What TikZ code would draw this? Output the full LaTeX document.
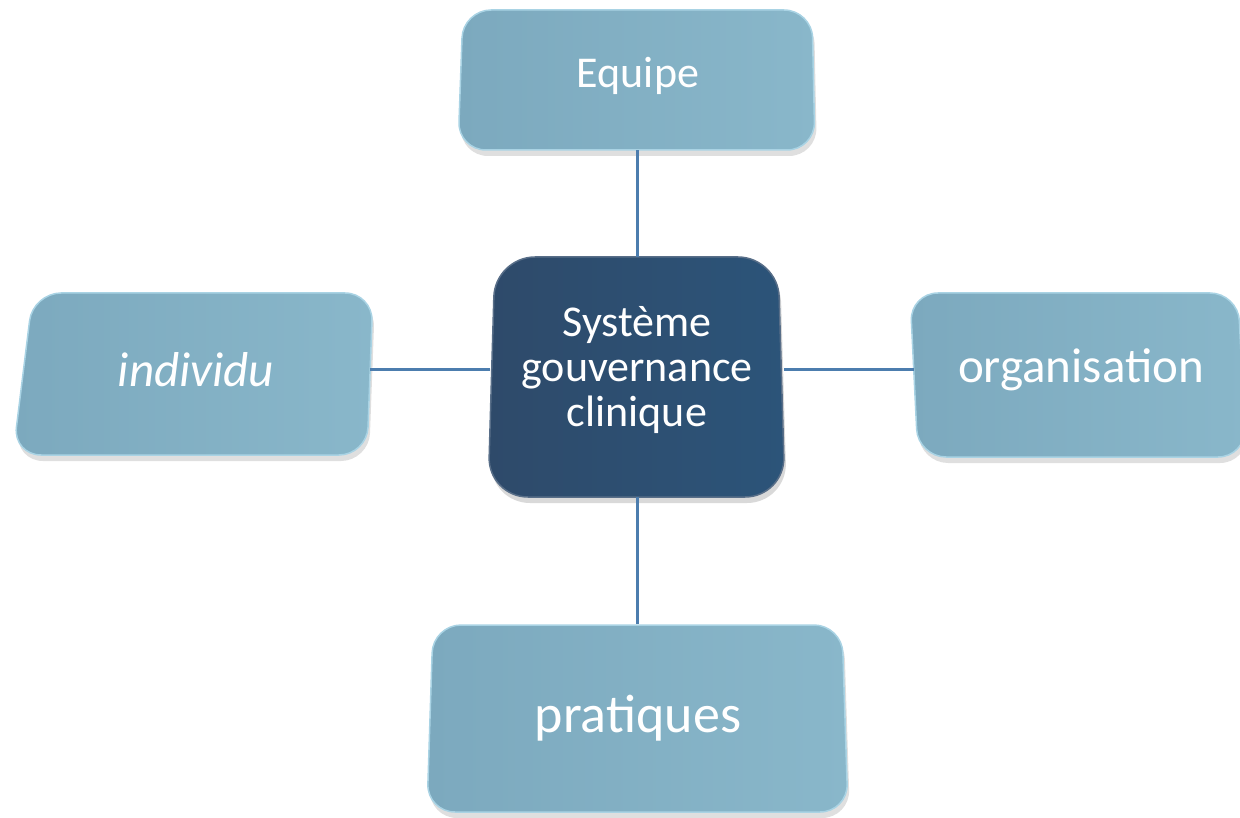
\documentclass[tikz,border=0pt]{standalone}
\usepackage{fontspec}
\setmainfont{Carlito}
\usetikzlibrary{shadows,calc}
\definecolor{boxA}{HTML}{7CA9BE}
\definecolor{boxB}{HTML}{89B7CA}
\definecolor{boxEdge}{HTML}{A9D3E4}
\definecolor{darkA}{HTML}{2E4A6A}
\definecolor{darkB}{HTML}{2C5479}
\definecolor{link}{HTML}{4C7DAE}
\tikzset{
  lightbox/.style={rounded corners=28pt, left color=boxA, right color=boxB, draw=boxEdge, line width=1.5pt,
    drop shadow={shadow xshift=2pt, shadow yshift=-6pt, opacity=0.25}},
  darkbox/.style={rounded corners=40pt, left color=darkA, right color=darkB, draw=darkA!80!white, line width=1.5pt,
    drop shadow={shadow xshift=2pt, shadow yshift=-6pt, opacity=0.3}},
  label/.style={text=white, inner sep=0pt, align=center},
  holder/.style={rectangle, inner sep=0pt},
  conn/.style={draw=link, line width=3pt}
}
\begin{document}
\begin{tikzpicture}[x=1pt,y=-1pt]
\useasboundingbox (0,0) rectangle (1240,818);
% box shapes
\path[lightbox] (463,10) -- (812,10) -- (815,150) -- (458,150) -- cycle;
\path[lightbox] (33,293) -- (373,293) -- (367,455) -- (13,455) -- cycle;
\path[lightbox] (910,293) -- (1238,293) -- (1246,457) -- (918,457) -- cycle;
\path[lightbox] (433,625) -- (842,625) -- (848,812) -- (427,812) -- cycle;
\path[darkbox] (495,257) -- (778,257) -- (785,497) -- (488,497) -- cycle;
% nodes
\node[holder, minimum width=350pt, minimum height=140pt] (equipe) at (637,80) {};
\node[label, font=\fontsize{44}{48}\selectfont] at (638,76) {Equipe};
\node[holder, minimum width=293pt, minimum height=240pt] (central) at (637,377) {};
\node[label, font=\fontsize{44}{45}\selectfont] at (637,370) {Système\\gouvernance\\clinique};
\node[holder, minimum width=355pt, minimum height=162pt] (indiv) at (192,370) {};
\node[label, font=\fontsize{49}{54}\selectfont\itshape] at (196,370) {individu};
\node[holder, minimum width=325pt, minimum height=164pt] (orga) at (1077,370) {};
\node[label, font=\fontsize{49}{54}\selectfont] at (1081,370) {organisation};
\node[holder, minimum width=415pt, minimum height=187pt] (prat) at (637,718) {};
\node[label, font=\fontsize{54}{60}\selectfont] at (638,718) {pratiques};
% connectors
\draw[conn] (equipe.south) -- (central.north);
\draw[conn] (central.south) -- (prat.north);
\draw[conn] (indiv.east) -- (indiv.east -| central.west);
\draw[conn] (orga.west) -- (orga.west -| central.east);
\end{tikzpicture}
\end{document}
